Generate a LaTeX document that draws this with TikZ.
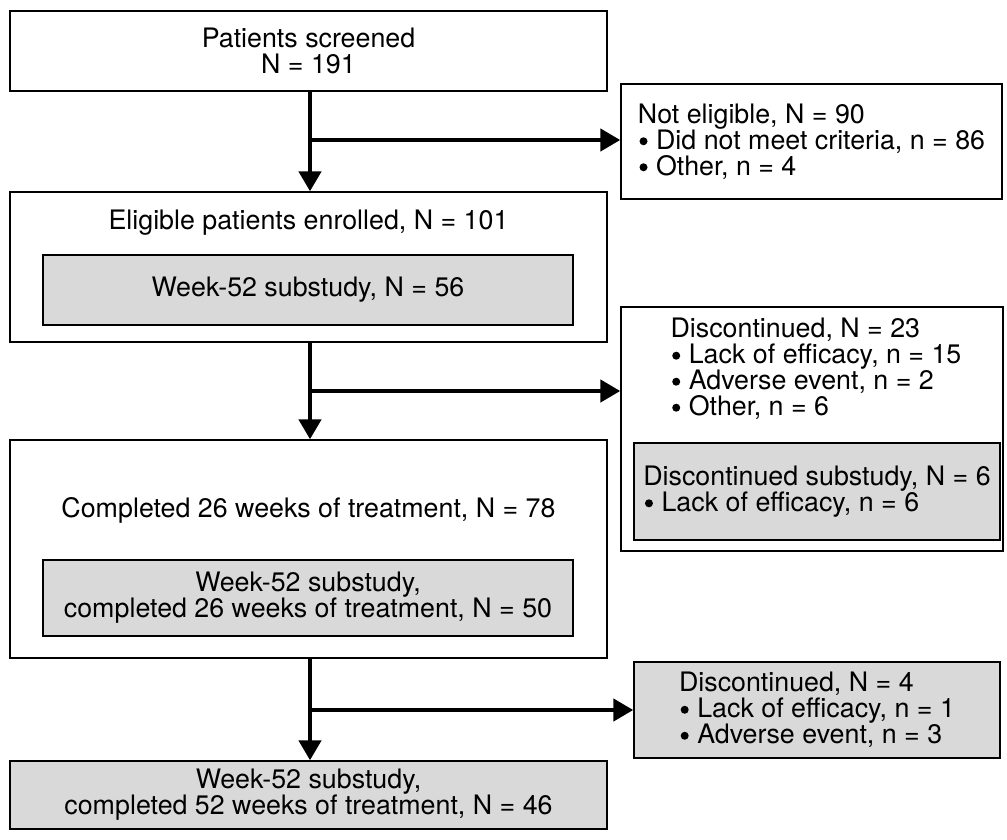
\documentclass[tikz,border=0pt]{standalone}
\usepackage{fontspec}
\setmainfont{TeX Gyre Heros}
\usetikzlibrary{arrows.meta}
\definecolor{gfill}{RGB}{217,217,217}
\newcommand{\fs}{\fontsize{26.8}{26}\selectfont}
\newcommand{\bul}{\hspace{0.06em}\tikz[baseline=-0.3em]\fill (0,0) circle (4pt);\hspace{0.32em}}
\begin{document}
\begin{tikzpicture}[x=1pt,y=-1pt,
  box/.style={draw, line width=1.4pt, inner sep=0pt, font=\fs, align=center},
  gbox/.style={box, fill=gfill},
  lbox/.style={box, align=left},
  plain/.style={font=\fs, align=center, inner sep=0pt},
  flow/.style={line width=4.5pt, -{Triangle[length=20pt,width=22pt]}},
  branch/.style={line width=4.5pt, -{Triangle[length=20pt,width=22pt]}}]
\useasboundingbox (0,0) rectangle (1007,839);

% main column
\node[box, minimum width=597pt, minimum height=80pt] (scr) at (308.5,51) {Patients screened\\N = 191};
\node[box, minimum width=597pt, minimum height=150pt] (enr) at (308.5,267) {};
\node[plain] (enrt) at (308.5,223) {Eligible patients enrolled, N = 101};
\node[gbox, minimum width=530pt, minimum height=70pt] (enrs) at (308,290) {Week-52 substudy, N = 56};

\node[box, minimum width=597pt, minimum height=218pt] (c26) at (308.5,549) {};
\node[plain] (c26t) at (308.5,510) {Completed 26 weeks of treatment, N = 78};
\node[gbox, minimum width=530pt, minimum height=76pt] (c26s) at (308,598) {Week-52 substudy,\\completed 26 weeks of treatment, N = 50};

\node[gbox, minimum width=597pt, minimum height=68pt] (c52) at (308.5,795) {Week-52 substudy,\\completed 52 weeks of treatment, N = 46};

% side boxes
\node[lbox, minimum width=381pt, minimum height=115pt] (ne) at (811.5,141.5) {Not eligible, N = 90\\\bul Did not meet criteria, n = 86\\\bul Other, n = 4};

\node[box, minimum width=382pt, minimum height=244pt] (dis) at (812,429) {};
\node[plain, align=left, anchor=north] (dist) at (816,318) {Discontinued, N = 23\\\bul Lack of efficacy, n = 15\\\bul Adverse event, n = 2\\\bul Other, n = 6};
\node[gbox, align=left, minimum width=366pt, minimum height=97pt] (diss) at (817,491.5) {Discontinued substudy, N = 6\\\bul Lack of efficacy, n = 6};

\node[gbox, align=left, minimum width=366pt, minimum height=96pt] (d4) at (817,710) {Discontinued, N = 4\\\bul Lack of efficacy, n = 1\\\bul Adverse event, n = 3};

% connectors
\coordinate (j1) at (310,140);
\coordinate (j2) at (310,391);
\coordinate (j3) at (310,710);
\draw[flow] (scr.south -| j1) -- (enr.north -| j1);
\draw[branch] (j1) -- (j1 -| ne.west);
\draw[flow] (enr.south -| j2) -- (c26.north -| j2);
\draw[branch] (j2) -- (j2 -| dis.west);
\draw[flow] (c26.south -| j3) -- (c52.north -| j3);
\draw[branch] (j3) -- (j3 -| d4.west);
\end{tikzpicture}
\end{document}
